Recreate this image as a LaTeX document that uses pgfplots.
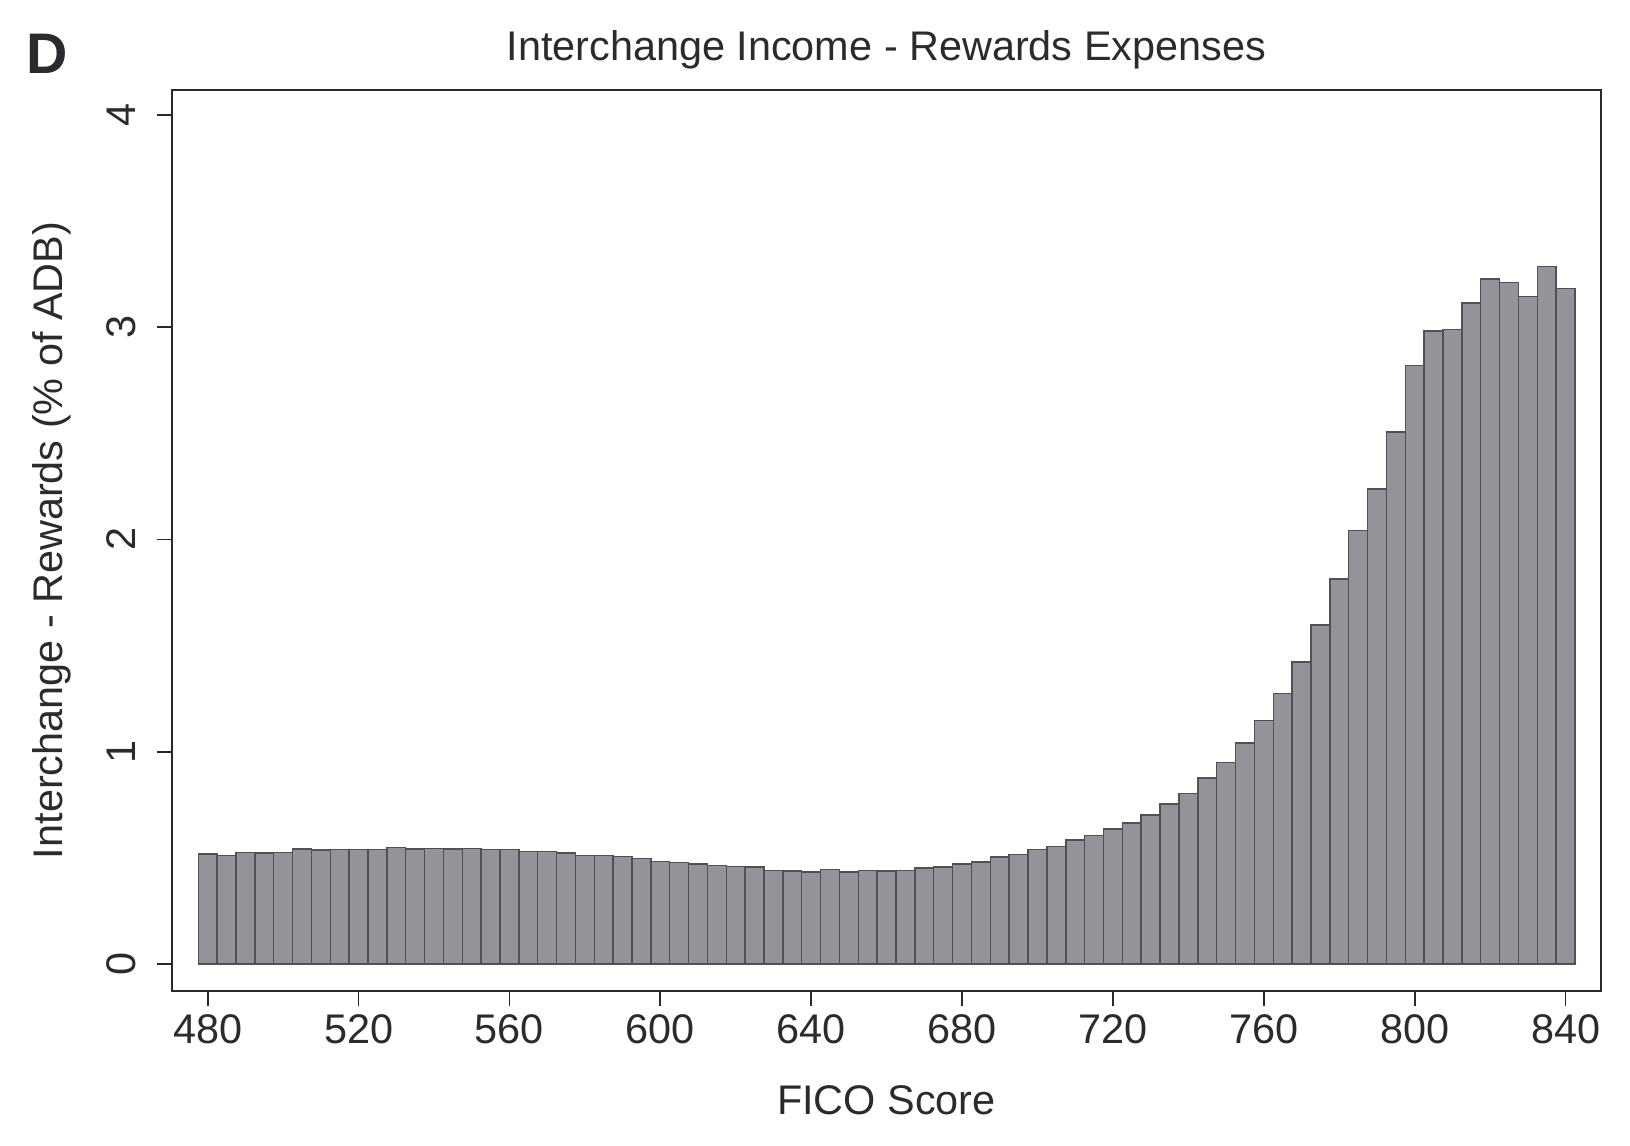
\documentclass[border=0pt]{standalone}
\usepackage{fontspec}
\setmainfont{Liberation Sans}
\usepackage{pgfplots}
\pgfplotsset{compat=1.18}
\definecolor{txt}{RGB}{42,42,47}
\definecolor{framec}{RGB}{40,40,45}
\definecolor{barfill}{RGB}{147,148,153}
\definecolor{baredge}{RGB}{80,81,86}
\pgfplotstableread{
x y
480 0.518
485 0.510
490 0.524
495 0.523
500 0.526
505 0.542
510 0.536
515 0.539
520 0.539
525 0.539
530 0.548
535 0.542
540 0.545
545 0.542
550 0.545
555 0.539
560 0.539
565 0.531
570 0.529
575 0.523
580 0.512
585 0.510
590 0.506
595 0.498
600 0.482
605 0.477
610 0.470
615 0.465
620 0.460
625 0.457
630 0.440
635 0.438
640 0.433
645 0.444
650 0.433
655 0.440
660 0.438
665 0.440
670 0.452
675 0.457
680 0.471
685 0.481
690 0.503
695 0.517
700 0.539
705 0.553
710 0.584
715 0.606
720 0.636
725 0.664
730 0.702
735 0.754
740 0.804
745 0.876
750 0.949
755 1.041
760 1.148
765 1.275
770 1.422
775 1.597
780 1.814
785 2.042
790 2.238
795 2.506
800 2.819
805 2.982
810 2.989
815 3.114
820 3.227
825 3.210
830 3.146
835 3.285
840 3.182
}\datatable
\begin{document}
\begin{tikzpicture}
\path[use as bounding box] (-42.925pt,-38.825pt) rectangle (364.575pt,247.675pt);
\begin{axis}[
  at={(0,0)}, anchor=south west,
  scale only axis, width=357.325pt, height=225.175pt,
  xmin=470.46, xmax=849.4, ymin=-0.126, ymax=4.118,
  xtick={480,520,...,840}, ytick={0,1,2,3,4},
  xtick pos=bottom, ytick pos=left,
  tick align=outside, major tick length=3.75pt,
  minor tick num=0,
  axis line style={line width=0.43pt, draw=framec},
  every tick/.style={line width=0.43pt, draw=framec},
  /pgf/number format/assume math mode=true,
  /pgf/number format/1000 sep={},
  tick label style={font=\fontsize{10.35}{12}\selectfont, text=txt},
  xticklabel style={anchor=base, yshift=-9.4pt},
  yticklabel style={xshift=-5.3pt, rotate=90, anchor=base},
  every axis title/.style={at={(axis description cs:0.5,1)}, anchor=base, yshift=7.3pt, font=\fontsize{10.35}{12}\selectfont, text=txt},
  title={Interchange Income - Rewards Expenses},
  every axis x label/.style={at={(axis description cs:0.5,-0.1372)}, anchor=base, font=\fontsize{10.35}{12}\selectfont, text=txt},
  xlabel={FICO Score},
  every axis y label/.style={at={(axis description cs:-0.07626,0.5)}, rotate=90, anchor=base, font=\fontsize{10.35}{12}\selectfont, text=txt},
  ylabel={Interchange - Rewards (\% of ADB)},
  ybar, bar width=5, bar shift=0pt,
]
\addplot[fill=barfill, draw=baredge, line width=0.36pt] table[x=x, y=y] {\datatable};
\end{axis}
\node[anchor=base west, inner sep=0pt, font=\bfseries\fontsize{14.3}{17}\selectfont, text=txt] at (-36.5pt,229.4pt) {D};
\end{tikzpicture}
\end{document}
